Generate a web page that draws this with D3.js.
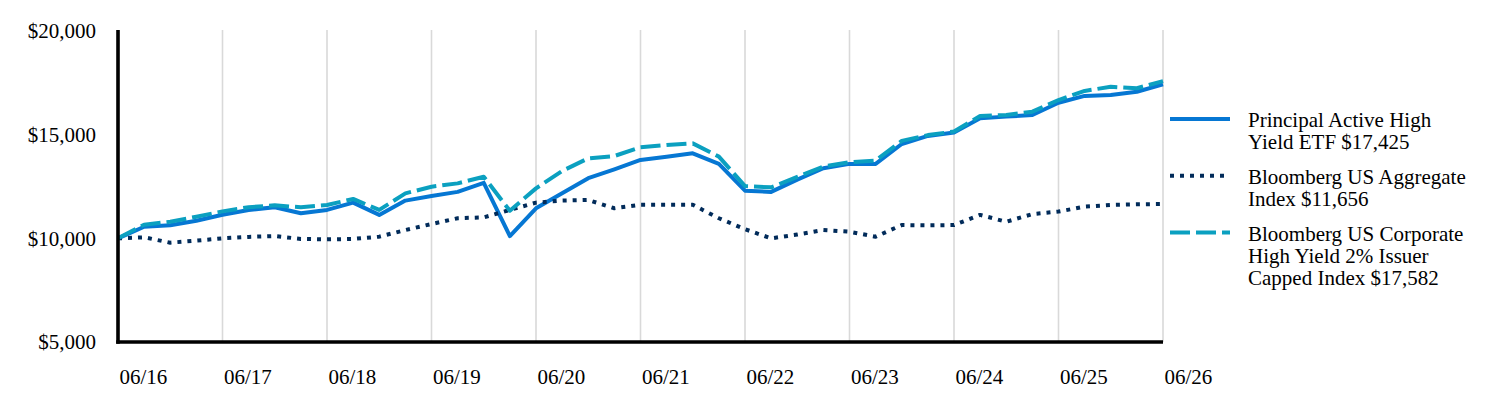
<!DOCTYPE html>
<html>
<head>
<meta charset="utf-8">
<script src="https://cdn.jsdelivr.net/npm/d3@7"></script>
<style>
  html, body { margin: 0; padding: 0; background: #fff; }
  svg { display: block; }
  text { font-family: "Liberation Serif", "Times New Roman", serif; fill: #000; }
</style>
</head>
<body>
<svg id="chart" width="1512" height="408"></svg>
<script>
// Quarter-end dates (index positions along the x axis)
const quarters = [
  "2016-06","2016-09","2016-12","2017-03","2017-06","2017-09","2017-12","2018-03","2018-06","2018-09","2018-12",
  "2019-03","2019-06","2019-09","2019-12","2020-03","2020-06","2020-09","2020-12","2021-03","2021-06",
  "2021-09","2021-12","2022-03","2022-06","2022-09","2022-12","2023-03","2023-06","2023-09","2023-12",
  "2024-03","2024-06","2024-09","2024-12","2025-03","2025-06","2025-09","2025-12","2026-03","2026-06"
];

const fundValues = [
  10000,10560,10630,10850,11140,11370,11500,11210,11370,11720,11130,
  11820,12040,12240,12680,10110,11450,12170,12900,13330,13780,
  13940,14100,13590,12300,12240,12830,13380,13590,13590,14550,
  14940,15100,15790,15870,15950,16540,16870,16910,17070,17425
];
const aggValues = [
  10000,10050,9790,9890,10000,10070,10110,9970,9950,9970,10080,
  10400,10690,10970,11010,11370,11720,11820,11850,11450,11620,
  11620,11620,10970,10440,10000,10180,10400,10320,10080,10640,
  10630,10640,11130,10800,11170,11290,11530,11610,11640,11656
];
const hyValues = [
  10000,10660,10800,11040,11300,11500,11590,11500,11610,11900,11370,
  12170,12490,12650,12970,11330,12410,13250,13860,13970,14390,
  14500,14580,13940,12520,12460,12960,13460,13670,13750,14700,
  14980,15150,15900,15950,16110,16670,17110,17310,17240,17582
];

const xTickQuarters = ["2016-06","2017-06","2018-06","2019-06","2020-06","2021-06","2022-06","2023-06","2024-06","2025-06","2026-06"];
const xTickLabels = ["06/16","06/17","06/18","06/19","06/20","06/21","06/22","06/23","06/24","06/25","06/26"];
const yTicks = [5000, 10000, 15000, 20000];

const seriesNames = [
  ["Principal Active High", "Yield ETF $17,425"],
  ["Bloomberg US Aggregate", "Index $11,656"],
  ["Bloomberg US Corporate", "High Yield 2% Issuer", "Capped Index $17,582"]
];

const series = [
  { values: fundValues, color: "#0677D3", dash: null, name: seriesNames[0] },
  { values: aggValues,  color: "#012B5A", dash: "4,6", name: seriesNames[1] },
  { values: hyValues,   color: "#0BA0C0", dash: "20,6", name: seriesNames[2] }
];

const svg = d3.select("#chart");
const x = d3.scalePoint().domain(quarters).range([118, 1163]);
const y = d3.scaleLinear().domain([5000, 20000]).range([342, 31]);

// vertical gridlines
svg.append("g")
  .selectAll("line")
  .data(xTickQuarters.slice(1))
  .join("line")
  .attr("x1", d => x(d)).attr("x2", d => x(d))
  .attr("y1", y(20000) - 1).attr("y2", y(5000))
  .attr("stroke", "#d9d9d9").attr("stroke-width", 1.6);

// y axis labels
const yAxis = d3.axisLeft(y).tickValues(yTicks).tickSize(0).tickPadding(0)
  .tickFormat(d => "$" + d3.format(",")(d));
const gy = svg.append("g").attr("transform", "translate(96,0)").call(yAxis);
gy.select(".domain").remove();
gy.selectAll("text").attr("font-size", 21).attr("font-family", "Liberation Serif, Times New Roman, serif").attr("fill", "#000");

// x axis labels (left-aligned at each year)
const xAxis = d3.axisBottom(x).tickValues(xTickQuarters).tickSize(0).tickPadding(0)
  .tickFormat((d, i) => xTickLabels[i]);
const gx = svg.append("g").attr("transform", "translate(0,369.5)").call(xAxis);
gx.select(".domain").remove();
gx.selectAll("text").attr("font-size", 21).attr("font-family", "Liberation Serif, Times New Roman, serif")
  .attr("fill", "#000").attr("text-anchor", "start").attr("dx", 1);

// lines
const line = d3.line().x((d, i) => x(quarters[i])).y(d => y(d));
series.forEach(s => {
  svg.append("path")
    .datum(s.values)
    .attr("d", line)
    .attr("fill", "none")
    .attr("stroke", s.color)
    .attr("stroke-width", 4)
    .attr("stroke-linejoin", "round")
    .attr("stroke-dasharray", s.dash);
});

// axes lines
svg.append("line").attr("x1", 118).attr("x2", 118).attr("y1", y(20000) - 1).attr("y2", y(5000) + 1.8)
  .attr("stroke", "#000").attr("stroke-width", 3.6);
svg.append("line").attr("x1", 116.2).attr("x2", x("2026-06")).attr("y1", y(5000)).attr("y2", y(5000))
  .attr("stroke", "#000").attr("stroke-width", 3.6);

// legend
const legend = svg.append("g");
let ly = 120;
const lh = 22;
series.forEach(s => {
  legend.append("line")
    .attr("x1", 1170).attr("x2", 1230)
    .attr("y1", ly - 1).attr("y2", ly - 1)
    .attr("stroke", s.color).attr("stroke-width", 4)
    .attr("stroke-dasharray", s.dash);
  const t = legend.append("text").attr("font-size", 21);
  s.name.forEach((ln, j) => {
    t.append("tspan").attr("x", 1248).attr("y", ly + j * lh).attr("dy", "0.35em").text(ln);
  });
  ly += s.name.length * lh + 12.7;
});
</script>
</body>
</html>
